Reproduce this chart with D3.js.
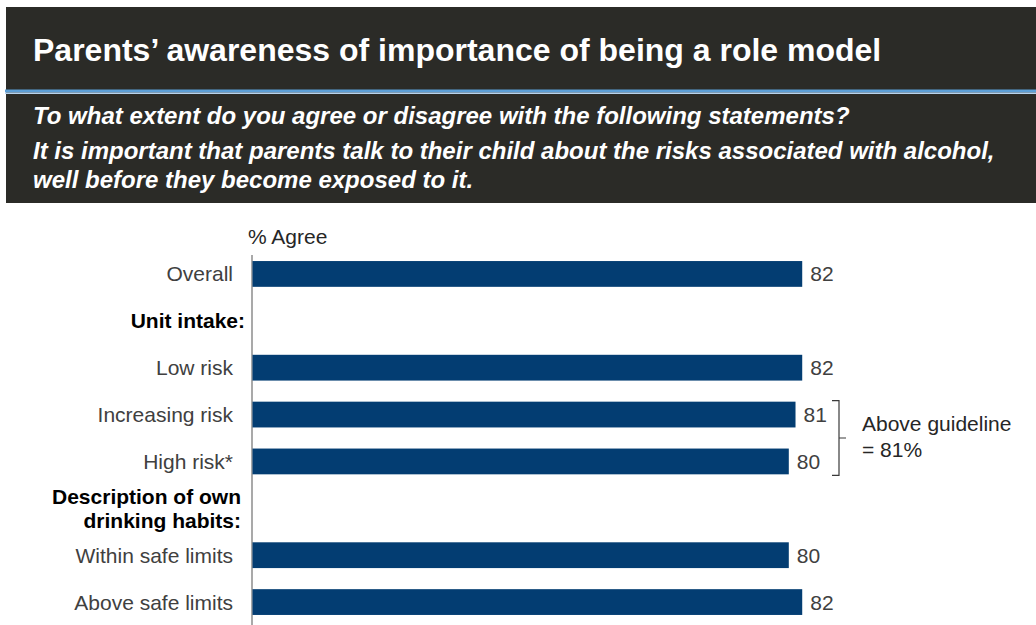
<!DOCTYPE html>
<html>
<head>
<meta charset="utf-8">
<script src="https://cdn.jsdelivr.net/npm/d3@7"></script>
<style>
  html, body { margin: 0; padding: 0; background: #ffffff; }
  svg { display: block; }
</style>
</head>
<body>
<svg id="chart" width="1036" height="625"></svg>
<script>
// Row order, top to bottom. Header rows carry no bar.
const rows = ["Overall", "Unit intake:", "Low risk", "Increasing risk", "High risk*",
              "Description of own drinking habits:", "Within safe limits", "Above safe limits"];
const headerRows = ["Unit intake:", "Description of own drinking habits:"];
const barCategories = ["Overall", "Low risk", "Increasing risk", "High risk*", "Within safe limits", "Above safe limits"];
const agreeValues = [82, 82, 81, 80, 80, 82];

const titleText = "Parents\u2019 awareness of importance of being a role model";
const questionLines = [
  "To what extent do you agree or disagree with the following statements?",
  "It is important that parents talk to their child about the risks associated with alcohol,",
  "well before they become exposed to it."
];
const guidelineLabel = ["Above guideline", "= 81%"];
const bracketRows = ["Increasing risk", "High risk*"];

const svg = d3.select("#chart");
const font = "Arial, 'Liberation Sans', Helvetica, sans-serif";
const labelSize = 21;

// ---- Header panel ----
svg.append("rect").attr("x", 6).attr("y", 7).attr("width", 1030).attr("height", 196)
  .attr("fill", "#2b2b27");
svg.append("rect").attr("x", 5).attr("y", 89.5).attr("width", 1031).attr("height", 3)
  .attr("fill", "#5d9fd6");
svg.append("rect").attr("x", 5).attr("y", 92.5).attr("width", 1031).attr("height", 1.5)
  .attr("fill", "#b8d4ee");

svg.append("text").attr("x", 33).attr("y", 61)
  .attr("font-family", font).attr("font-weight", "bold").attr("font-size", 32)
  .attr("fill", "#ffffff").text(titleText);

const qY = [124, 159, 188];
svg.selectAll("text.question").data(questionLines).join("text")
  .attr("class", "question")
  .attr("x", 33).attr("y", (d, i) => qY[i])
  .attr("font-family", font).attr("font-weight", "bold").attr("font-style", "italic")
  .attr("font-size", 24).attr("fill", "#ffffff").text(d => d);

// ---- Bar chart ----
const x = d3.scaleLinear().domain([0, 100]).range([252, 923]);
const y = d3.scaleBand().domain(rows).range([250.5, 625.5]).paddingInner(0.45).paddingOuter(0.225);

const data = barCategories.map((c, i) => ({ cat: c, value: agreeValues[i] }));

// value axis line (no ticks)
svg.append("line").attr("x1", x(0)).attr("x2", x(0)).attr("y1", 255).attr("y2", 625)
  .attr("stroke", "#8c8c8c").attr("stroke-width", 1.5);

svg.append("text").attr("x", 248).attr("y", 244)
  .attr("font-family", font).attr("font-size", labelSize).attr("fill", "#262626").text("% Agree");

svg.selectAll("rect.bar").data(data).join("rect")
  .attr("class", "bar")
  .attr("x", x(0) + 0.5).attr("y", d => y(d.cat))
  .attr("width", d => x(d.value) - x(0) - 0.5).attr("height", y.bandwidth())
  .attr("fill", "#033d72");

svg.selectAll("text.value").data(data).join("text")
  .attr("class", "value")
  .attr("x", d => x(d.value) + 8).attr("y", d => y(d.cat) + y.bandwidth() / 2)
  .attr("dy", "0.36em")
  .attr("font-family", font).attr("font-size", labelSize).attr("fill", "#404040")
  .text(d => d.value);

// category labels
const yAxis = d3.axisLeft(y).tickSize(0).tickPadding(0).tickFormat(() => "");
const axisG = svg.append("g").attr("transform", `translate(${x(0)},0)`).call(yAxis);
axisG.select(".domain").remove();

svg.selectAll("text.cat").data(barCategories).join("text")
  .attr("class", "cat")
  .attr("x", 233).attr("y", d => y(d) + y.bandwidth() / 2).attr("dy", "0.36em")
  .attr("text-anchor", "end")
  .attr("font-family", font).attr("font-size", labelSize).attr("fill", "#404040")
  .text(d => d);

// group headers (bold, black)
svg.append("text").attr("x", 245).attr("y", y("Unit intake:") + y.bandwidth() / 2).attr("dy", "0.36em")
  .attr("text-anchor", "end").attr("font-family", font).attr("font-weight", "bold")
  .attr("font-size", labelSize).attr("fill", "#000000").text(headerRows[0]);

const descLines = ["Description of own", "drinking habits:"];
const descMid = y(headerRows[1]) + y.bandwidth() / 2;
svg.selectAll("text.desc").data(descLines).join("text")
  .attr("class", "desc")
  .attr("x", 241).attr("y", (d, i) => descMid + (i - 0.5) * 24).attr("dy", "0.36em")
  .attr("text-anchor", "end").attr("font-family", font).attr("font-weight", "bold")
  .attr("font-size", labelSize).attr("fill", "#000000").text(d => d);

// bracket grouping the above-guideline rows
const bTop = y(bracketRows[0]) - 1;
const bBot = y(bracketRows[1]) + y.bandwidth() + 1;
const bX = 839;
const bMid = (bTop + bBot) / 2;
svg.append("path")
  .attr("d", `M${bX - 7},${bTop} H${bX} V${bBot} H${bX - 7} M${bX},${bMid} H${bX + 7}`)
  .attr("fill", "none").attr("stroke", "#3a3a3a").attr("stroke-width", 1.2);

svg.selectAll("text.guide").data(guidelineLabel).join("text")
  .attr("class", "guide")
  .attr("x", 862).attr("y", (d, i) => 431 + i * 26)
  .attr("font-family", font).attr("font-size", labelSize).attr("fill", "#262626")
  .text(d => d);
</script>
</body>
</html>
